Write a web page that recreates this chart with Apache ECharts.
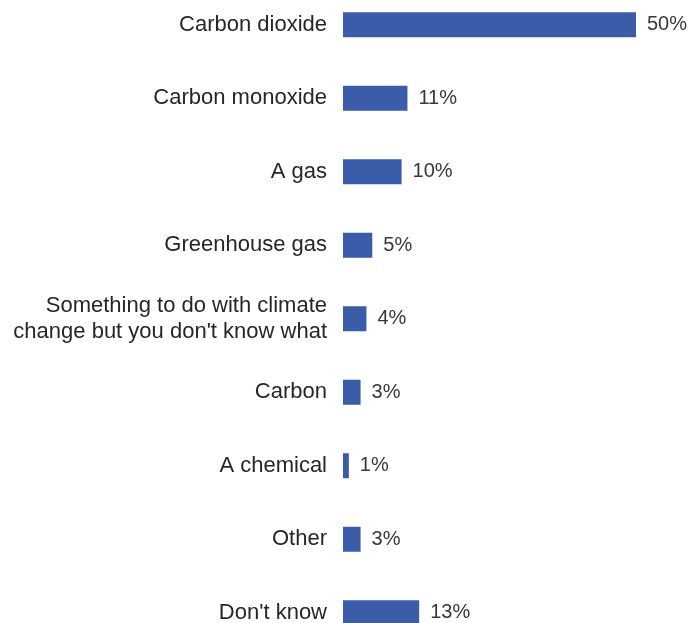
<!DOCTYPE html>
<html>
<head>
<meta charset="utf-8">
<script src="https://cdn.jsdelivr.net/npm/echarts@6/dist/echarts.min.js"></script>
<style>
  html, body { margin: 0; padding: 0; background: #fff; }
  #chart { width: 689px; height: 623px; }
</style>
</head>
<body>
<div id="chart"></div>
<script>
const categories = [
  'Carbon dioxide',
  'Carbon monoxide',
  'A gas',
  'Greenhouse gas',
  'Something to do with climate\nchange but you don\'t know what',
  'Carbon',
  'A chemical',
  'Other',
  "Don't know"
];
const values = [50, 11, 10, 5, 4, 3, 1, 3, 13];

const font = '"Liberation Sans", Arial, sans-serif';

const chart = echarts.init(document.getElementById('chart'));
chart.setOption({
  animation: false,
  grid: {
    left: 343,
    top: -12,
    right: 23.7,
    bottom: -26.5,
    containLabel: false,
    outerBoundsMode: 'none'
  },
  xAxis: {
    type: 'value',
    min: 0,
    max: 55,
    show: false
  },
  yAxis: {
    type: 'category',
    data: categories,
    inverse: true,
    axisLine: { show: false },
    axisTick: { show: false },
    splitLine: { show: false },
    axisLabel: {
      margin: 16,
      fontFamily: font,
      fontSize: 22,
      color: '#262626',
      lineHeight: 26,
      align: 'right'
    }
  },
  series: [{
    type: 'bar',
    data: values,
    barWidth: 25,
    itemStyle: { color: '#3b5ca8' },
    label: {
      show: true,
      position: 'right',
      distance: 11,
      formatter: '{c}%',
      fontFamily: font,
      fontSize: 20,
      color: '#383838'
    }
  }]
});
</script>
</body>
</html>
